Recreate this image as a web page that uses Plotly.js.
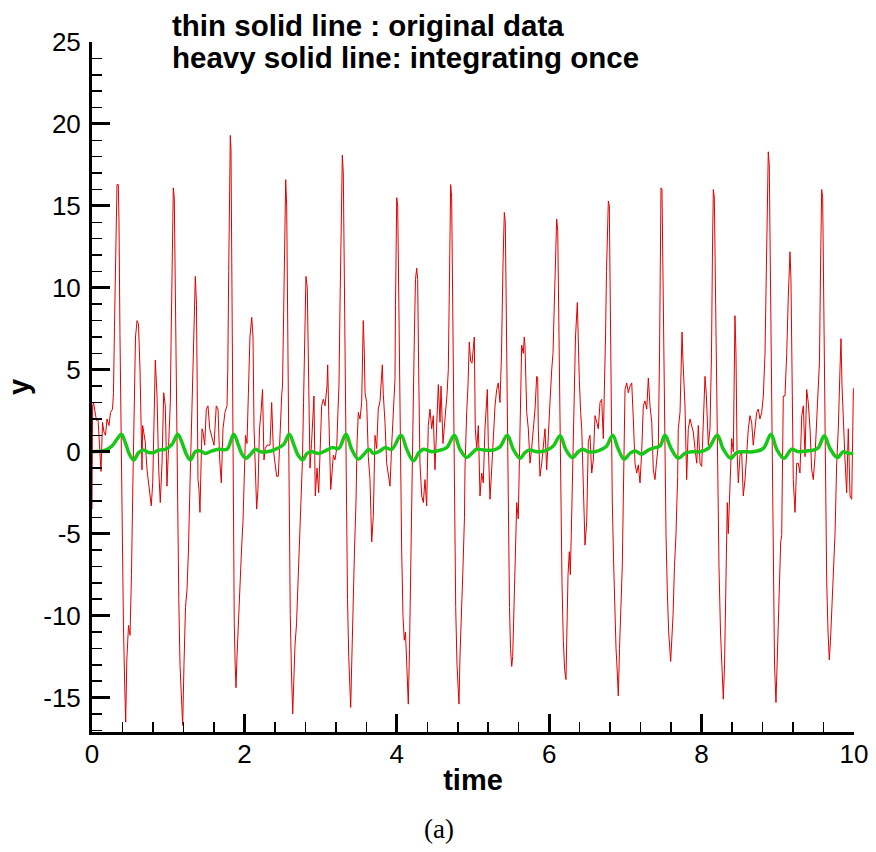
<!DOCTYPE html>
<html>
<head>
<meta charset="utf-8">
<script src="https://cdn.plot.ly/plotly-3.0.1.min.js"></script>
<style>html,body{margin:0;padding:0;background:#fff;}#chart{width:876px;height:852px;}</style>
</head>
<body>
<div id="chart"></div>
<script>
// ---- red series: original data (time, value), read cycle by cycle ----
const redTime = [
0.000,0.008,0.020,0.039,0.059,0.079,0.098,0.118,0.138,0.157,0.177,0.197,0.223,0.243,0.269,
0.282,0.295,0.311,0.328,0.345,0.354,0.367,0.381,0.398,0.413,0.427,0.442,0.457,0.479,0.499,0.518,0.538,0.555,0.571,0.591,0.610,0.630,0.647,0.656,0.665,0.699,0.722,0.744,0.778,0.797,0.818,0.831,0.853,0.875,0.896,0.919,0.941,0.962,0.984,1.007,1.028,
1.037,1.050,1.067,1.080,1.093,1.106,1.122,1.139,1.155,1.175,1.190,1.207,1.227,1.247,1.266,1.286,1.306,1.325,1.343,1.356,1.371,1.378,1.391,1.404,1.417,1.430,1.444,1.457,1.479,1.500,1.522,1.545,1.575,1.601,1.631,1.654,1.676,1.697,1.719,1.745,1.772,
1.782,1.794,1.804,1.815,1.824,1.835,1.844,1.854,1.867,1.879,1.890,1.903,1.923,1.942,1.962,1.982,2.001,2.014,2.034,2.054,2.073,2.096,2.113,2.126,2.139,2.161,2.178,2.198,2.218,2.238,2.257,2.274,2.297,2.336,2.358,2.379,2.402,2.424,2.445,2.467,2.490,
2.500,2.513,2.526,2.542,2.555,2.566,2.576,2.589,2.602,2.618,2.634,2.648,2.664,2.684,2.703,2.723,2.743,2.762,2.776,2.791,2.808,2.825,2.841,2.861,2.881,2.900,2.913,2.930,2.953,2.975,3.014,3.035,3.058,3.084,3.093,3.106,3.123,3.133,3.150,3.167,3.189,3.211,3.228,
3.241,3.255,3.270,3.285,3.298,3.311,3.324,3.340,3.353,3.369,3.382,3.395,3.408,3.425,3.445,3.465,3.478,3.495,3.517,3.539,3.550,3.560,3.574,3.583,3.605,3.626,3.648,3.671,3.692,3.714,3.736,3.757,3.780,3.793,3.810,3.823,3.845,3.867,3.888,3.911,3.933,3.954,3.976,
3.983,3.992,3.999,4.012,4.022,4.035,4.049,4.064,4.081,4.098,4.114,4.130,4.151,4.167,4.180,4.193,4.213,4.230,4.245,4.261,4.274,4.287,4.304,4.327,4.348,4.370,4.392,4.413,4.436,4.458,4.479,4.501,4.524,4.545,4.567,4.580,4.606,4.633,4.659,4.676,
4.689,4.698,4.707,4.720,4.734,4.747,4.760,4.773,4.790,4.803,4.816,4.829,4.849,4.869,4.888,4.895,4.917,4.934,4.951,4.970,4.987,5.004,5.017,5.030,5.049,5.070,5.092,5.114,5.135,5.157,5.180,5.188,5.201,5.223,5.245,5.289,5.311,5.332,
5.354,5.374,5.394,5.411,5.424,5.437,5.450,5.463,5.479,5.492,5.508,5.521,5.538,5.551,5.574,5.594,5.617,5.639,5.660,5.673,5.682,5.705,5.726,5.748,5.770,5.791,5.814,5.836,5.849,5.857,5.879,5.902,5.923,5.945,5.967,5.988,6.010,6.033,
6.050,6.070,6.085,6.098,6.112,6.125,6.138,6.151,6.168,6.185,6.203,6.220,6.234,6.247,6.264,6.277,6.290,6.306,6.325,6.345,6.369,6.382,6.395,6.413,6.427,6.448,6.470,6.492,6.513,6.535,6.558,6.579,6.601,6.624,6.644,6.667,6.689,6.710,6.723,6.739,
6.752,6.765,6.776,6.789,6.798,6.811,6.828,6.844,6.860,6.877,6.894,6.907,6.923,6.942,6.959,6.972,6.982,6.995,7.017,7.038,7.060,7.083,7.104,7.126,7.148,7.169,7.192,7.214,7.235,7.257,7.280,7.301,7.323,7.346,7.366,7.388,7.411,7.432,7.448,
7.458,7.467,7.480,7.493,7.507,7.520,7.533,7.550,7.568,7.594,7.608,7.625,7.644,7.664,7.686,7.694,7.717,7.734,7.743,7.756,7.782,7.804,7.825,7.848,7.870,7.891,7.913,7.936,7.957,7.979,8.001,8.022,8.045,8.062,8.088,8.110,8.130,8.143,
8.154,8.167,8.180,8.193,8.209,8.228,8.248,8.268,8.285,8.301,8.314,8.324,8.337,8.350,8.369,8.395,8.416,8.429,8.438,8.451,8.465,8.482,8.504,8.526,8.547,8.570,8.592,8.613,8.635,8.657,8.678,8.723,8.744,8.766,8.789,8.810,8.832,8.852,
8.875,8.888,8.902,8.915,8.928,8.941,8.957,8.976,8.990,9.007,9.025,9.038,9.051,9.072,9.094,9.117,9.138,9.160,9.173,9.186,9.203,9.226,9.248,9.269,9.291,9.314,9.335,9.357,9.379,9.400,9.423,9.445,9.466,9.488,9.511,9.532,9.547,9.563,
9.576,9.589,9.602,9.615,9.629,9.642,9.659,9.676,9.692,9.711,9.731,9.751,9.773,9.794,9.816,9.829,9.843,9.860,9.882,9.904,9.925,9.948,9.970,9.992,10.000
];
const redValue = [
-3.5,2.8,3.0,2.4,1.9,2.0,0.6,-1.2,1.8,1.2,1.0,2.0,1.6,2.4,2.6,
3.6,7.6,13.3,16.3,16.3,14.1,7.1,0.5,-6.5,-10.7,-13.8,-16.5,-12.7,-10.6,-11.2,-7.5,-1.5,3.5,7.0,8.0,7.8,5.0,0.0,-1.1,1.6,0.6,-1.1,-2.1,-3.3,-1.9,2.0,5.6,3.4,-1.0,-3.1,-0.7,3.6,2.8,-2.1,0.2,3.0,
6.5,12.0,16.1,15.5,10.0,3.0,-3.5,-9.0,-13.0,-15.5,-16.7,-13.0,-9.5,-8.4,-6.0,-2.0,1.5,6.0,9.5,10.7,9.0,5.0,-1.7,-2.3,-3.7,-1.0,1.4,1.2,0.4,2.6,2.8,1.4,0.8,0.4,2.8,2.6,-0.5,-1.9,1.4,2.4,2.8,
5.0,11.0,17.5,19.3,18.5,10.0,3.0,-5.0,-10.5,-13.0,-14.4,-12.5,-10.0,-7.5,-6.0,-4.2,-1.5,1.0,0.5,4.5,7.0,8.2,7.0,1.5,-0.7,-3.5,-2.3,1.4,2.4,3.8,-0.5,0.2,0.4,0.4,3.0,0.2,-0.7,-1.5,-1.5,1.4,3.5,
4.0,8.0,13.5,16.6,15.0,9.0,2.0,-5.0,-10.0,-13.5,-16.0,-14.0,-11.8,-10.5,-8.0,-5.0,-3.1,-0.5,3.0,7.5,10.7,10.0,4.0,-1.0,0.5,2.0,3.4,-2.7,-1.0,-2.5,2.8,3.2,2.8,4.0,5.3,2.5,-0.2,-2.3,-1.3,-0.2,-0.5,0.2,2.5,
4.0,9.0,15.0,18.1,17.0,10.0,2.5,-4.0,-9.0,-12.5,-14.8,-15.6,-13.0,-9.0,-6.0,-3.0,0.5,2.4,2.0,3.0,6.5,8.0,6.0,3.6,3.0,-0.3,-1.7,-5.5,-3.9,1.0,0.2,2.6,3.1,4.5,5.3,3.5,1.8,-0.7,-1.3,-2.1,0.4,2.5,4.4,
9.0,14.0,15.5,15.0,10.0,4.0,-2.0,-6.0,-10.0,-11.5,-11.0,-13.5,-15.4,-12.0,-7.0,-3.0,2.0,7.0,10.5,11.2,10.5,5.0,-0.7,-2.7,-3.1,-1.7,-3.3,1.6,2.6,1.4,2.2,-1.1,2.4,4.1,1.8,4.0,0.5,2.0,3.5,5.0,
10.0,14.5,16.3,15.5,9.0,2.0,-4.5,-9.5,-13.0,-14.5,-15.4,-12.5,-9.0,-7.0,-4.0,-1.0,2.4,4.0,6.7,5.5,5.4,6.5,7.0,1.4,0.2,1.6,-2.7,-1.3,-1.9,1.4,3.6,3.8,0.4,-2.9,-1.1,2.8,3.8,4.2,
3.0,6.0,11.5,14.6,14.0,8.0,1.0,-5.0,-9.5,-12.0,-13.1,-12.5,-9.0,-6.0,-3.1,-4.1,1.4,6.5,6.0,7.0,6.5,2.4,1.4,-0.7,0.2,1.4,2.6,4.6,4.5,1.4,-1.5,-0.7,0.4,1.4,-1.1,1.4,3.0,5.0,
6.0,9.5,13.0,14.2,13.5,8.5,2.0,-3.5,-8.0,-11.5,-13.3,-13.9,-10.5,-7.5,-6.1,-7.5,-5.0,-1.0,3.5,7.0,9.1,6.5,4.4,2.4,1.4,-2.1,-5.7,-4.3,0.6,1.0,-1.3,-0.5,2.2,1.8,1.4,3.0,3.2,0.8,3.0,7.0,
11.0,14.5,15.3,15.0,10.0,3.0,-3.0,-6.5,-10.0,-12.0,-13.5,-14.9,-12.0,-9.5,-7.0,-3.0,1.5,3.8,4.2,3.6,4.0,4.2,2.0,-0.7,-1.3,-0.8,-1.9,0.0,2.8,3.1,2.6,4.5,2.8,1.8,-1.1,-1.7,-0.5,0.4,6.0,
12.0,16.1,16.0,11.0,5.0,-1.0,-5.0,-8.5,-11.0,-12.8,-11.5,-10.0,-7.0,-5.0,-1.5,1.4,2.4,6.0,7.3,5.5,2.8,-1.7,1.4,2.0,1.6,1.2,0.2,-0.7,1.6,-0.7,-0.9,1.6,4.6,3.5,0.4,1.4,6.0,12.5,
16.0,15.5,10.0,4.0,-2.0,-7.0,-11.0,-13.5,-15.1,-13.0,-10.0,-6.8,-3.1,-5.0,-2.0,0.8,0.0,5.0,8.3,6.0,0.1,-1.9,-0.2,0.0,-2.7,-1.7,-0.2,1.4,2.2,1.8,0.4,2.4,2.6,2.0,2.4,3.4,6.0,12.0,
18.3,17.5,11.0,3.0,-4.0,-9.5,-13.0,-15.3,-13.0,-10.5,-7.5,-5.5,-5.1,3.4,3.4,6.0,9.5,12.2,10.5,5.0,-1.7,-3.7,-0.7,-0.7,-1.3,2.2,2.8,-0.3,3.8,3.0,1.4,-1.1,-1.7,-0.3,2.4,4.0,5.5,12.0,
16.0,15.5,9.0,2.0,-4.0,-8.0,-11.0,-12.7,-11.5,-9.5,-7.5,-5.0,-0.7,1.4,5.0,6.9,4.0,1.4,-0.5,-2.5,1.4,-2.7,-2.9,3.8,3.9
];

// ---- green series: integrating once ----
const greenTime = [
0.000,0.175,0.262,0.328,0.385,0.437,0.490,0.547,0.613,0.678,
0.744,0.810,0.875,0.962,1.050,1.125,1.181,1.238,1.290,1.356,
1.421,1.487,1.575,1.663,1.772,1.860,1.925,1.969,2.021,2.091,
2.143,2.209,2.297,2.406,2.516,2.589,2.647,2.703,2.765,2.822,
2.887,2.975,3.062,3.150,3.238,3.333,3.408,3.495,3.560,3.635,
3.692,3.780,3.845,3.933,4.055,4.130,4.217,4.291,4.348,4.458,
4.567,4.655,4.755,4.829,4.917,4.983,5.049,5.157,5.266,5.354,
5.450,5.529,5.617,5.682,5.748,5.836,5.945,6.054,6.142,6.217,
6.303,6.382,6.440,6.513,6.601,6.710,6.755,6.833,6.907,6.982,
7.060,7.126,7.214,7.301,7.388,7.454,7.520,7.594,7.694,7.782,
7.870,7.979,8.088,8.206,8.285,8.382,8.461,8.547,8.678,8.810,
8.911,8.986,9.081,9.182,9.269,9.379,9.466,9.532,9.610,9.685,
9.781,9.860,9.925,9.992
];
const greenValue = [
0,0.1,0.35,0.76,1.07,0.56,-0.15,-0.5,-0.05,0.1,
-0.05,-0.05,0.1,0.15,0.45,1.07,0.56,-0.15,-0.5,0,
0.05,-0.1,0.05,0.15,0.15,1.07,0.35,-0.15,-0.4,-0.1,
0.15,0,0,0.15,0.45,1.07,0.45,-0.2,-0.5,-0.1,
0,-0.1,0.05,0.25,0.2,1.07,0.15,-0.45,-0.2,0.15,
-0.1,0.05,0.25,0.15,1.0,0.15,-0.55,-0.05,0.15,0,
0.1,0.25,1.0,0.15,-0.35,-0.1,0.15,0.1,0.1,0.3,
1.0,0.15,-0.4,-0.05,0.1,0,0.05,0.35,0.97,0.15,
-0.35,0,0.15,0,0,0.2,0.35,1.0,0.15,-0.45,
-0.1,0.05,-0.15,0.1,0.25,0.35,1.0,0.25,-0.4,-0.1,
0,0,0.2,1.0,0.15,-0.4,-0.05,0,0,0.2,
1.07,0.15,-0.4,0.15,0,0.05,0.1,0.25,0.97,0.2,
-0.35,0,-0.1,-0.1
];

// ---- axes ticks ----
const xTickVals = [0, 2, 4, 6, 8, 10];
const xTickText = ['0', '2', '4', '6', '8', '10'];
const yTickVals = [-15, -10, -5, 0, 5, 10, 15, 20, 25];
const yTickText = ['-15', '-10', '-5', '0', '5', '10', '15', '20', '25'];

// ---- texts ----
const legendLine1 = 'thin solid line : original data';
const legendLine2 = 'heavy solid line: integrating once';
const xTitle = 'time';
const yTitle = 'y';
const caption = '(a)';

const sans = 'Liberation Sans, Arial, sans-serif';

const traces = [
  {x: redTime, y: redValue, type: 'scatter', mode: 'lines',
   line: {color: 'rgb(226,0,0)', width: 1}, hoverinfo: 'skip', showlegend: false},
  {x: greenTime, y: greenValue, type: 'scatter', mode: 'lines',
   line: {color: 'rgb(24,200,24)', width: 3.5, shape: 'spline', smoothing: 1.0}, hoverinfo: 'skip', showlegend: false}
];

const axisCommon = {
  showline: true, linecolor: '#000', linewidth: 3, mirror: false,
  showgrid: false, zeroline: false,
  ticks: 'inside', ticklen: 18, tickwidth: 3, tickcolor: '#000',
  tickmode: 'array',
  tickfont: {family: sans, size: 26, color: '#000'}
};

const layout = {
  width: 876, height: 852,
  margin: {l: 92, r: 22, t: 42, b: 120, pad: 0},
  paper_bgcolor: '#fff', plot_bgcolor: '#fff',
  showlegend: false,
  xaxis: Object.assign({}, axisCommon, {
    range: [0, 10], tickvals: xTickVals, ticktext: xTickText,
    ticklabelstandoff: -3,
    minor: {tickmode: 'linear', tick0: 0, dtick: 0.4, ticks: 'inside', ticklen: 10, tickwidth: 1.5, tickcolor: '#000', showgrid: false},
    title: {text: '<b>' + xTitle + '</b>', font: {family: sans, size: 29, color: '#000'}, standoff: 2}
  }),
  yaxis: Object.assign({}, axisCommon, {
    range: [-17.1, 25], tickvals: yTickVals, ticktext: yTickText,
    ticklabelstandoff: 3,
    minor: {tickmode: 'linear', tick0: 0, dtick: 1, ticks: 'inside', ticklen: 10, tickwidth: 1.5, tickcolor: '#000', showgrid: false},
    title: {text: '<b>' + yTitle + '</b>', font: {family: sans, size: 29, color: '#000'}, standoff: 6}
  }),
  annotations: [
    {text: '<b>' + legendLine1 + '</b>', xref: 'paper', yref: 'paper', x: 0.1024, y: 1.0235,
     xanchor: 'left', yanchor: 'middle', showarrow: false, align: 'left',
     font: {family: sans, size: 29.5, color: '#000'}},
    {text: '<b>' + legendLine2 + '</b>', xref: 'paper', yref: 'paper', x: 0.1024, y: 0.977,
     xanchor: 'left', yanchor: 'middle', showarrow: false, align: 'left',
     font: {family: sans, size: 29.5, color: '#000'}},
    {text: caption, xref: 'paper', yref: 'paper', x: 0.4554, y: -0.141,
     xanchor: 'center', yanchor: 'middle', showarrow: false,
     font: {family: 'Liberation Serif, Times New Roman, serif', size: 27, color: '#000'}}
  ]
};

Plotly.newPlot('chart', traces, layout, {displayModeBar: false, staticPlot: true});
</script>
</body>
</html>
